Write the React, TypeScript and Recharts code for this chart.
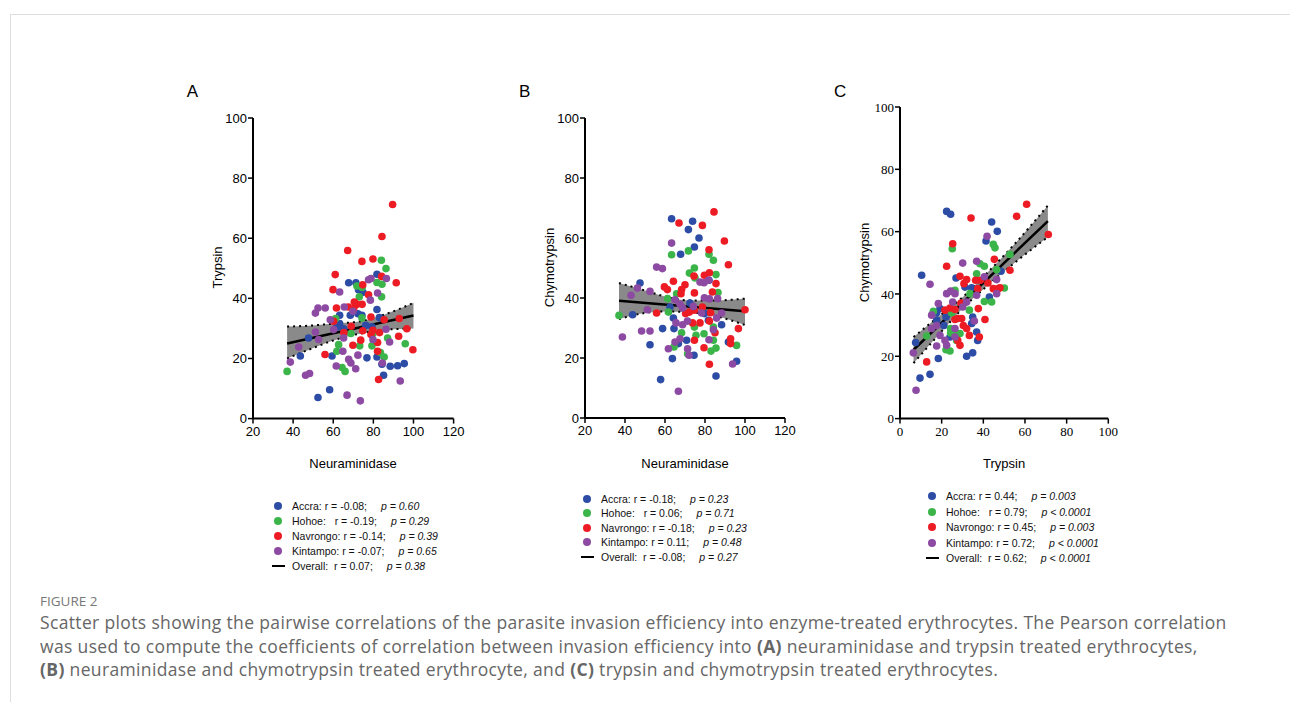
import React from "react";
import { ComposedChart, Scatter, Line, Area, XAxis, YAxis } from "recharts";

type Pt = [number, number];

const siteNames = ["Accra", "Hohoe", "Navrongo", "Kintampo"];
const siteColors = ["#2d4ca6", "#3bb54a", "#ed1c24", "#8d4aa2"];

// Panel A: neuraminidase (x) vs trypsin (y)
const accraA: Pt[] = [[81.8,48],[67.7,45.2],[71.3,45.2],[72.6,42.9],[74.8,42],[81.8,36.3],[68.5,34.4],[72.3,34.9],[74.3,34.4],[63.2,34.4],[63.2,31.6],[65.2,29.9],[61.8,30.5],[47.7,26.8],[79.3,30.5],[43.6,20.8],[59.4,20.8],[76.8,20.2],[81.8,20.5],[84.3,18.1],[88.4,17.4],[92.1,17.6],[95.4,18.3],[85.1,14.4],[58.2,9.6],[52.4,7],[76.2,31],[83,33.6]];
const hohoeA: Pt[] = [[84,52.7],[86.3,49.9],[81.8,45.3],[84.3,44.7],[71.8,44.1],[74.4,43.6],[84.1,40.5],[73,40.5],[74.3,33.5],[61.2,33.3],[68.8,28.3],[79.8,28.3],[62.7,24.6],[73.2,24.2],[79.3,24.2],[87.1,26.8],[95.9,24.9],[61.8,22.4],[85.4,20.5],[64.4,17],[65.9,15.7],[37,15.7],[83.5,22]];
const navrongoA: Pt[] = [[89.6,71.2],[84.3,60.6],[67.2,55.9],[74.3,52.3],[79.8,53.1],[61,47.9],[91.4,45.2],[84.1,47.3],[59.9,42.9],[74.7,44.5],[61.6,36.8],[70.5,38.8],[67.5,37.1],[71.9,38],[74.4,38],[70.2,36.6],[77.6,41.2],[78.8,33.8],[85.4,32.9],[92.9,33.3],[60.2,32.4],[69,30.7],[96.7,29.9],[74.7,29.2],[65.3,28.6],[79.8,29.4],[83.1,28.6],[78.8,28],[92.6,27.4],[73.7,26.1],[69.8,24.4],[82.1,25.3],[82.1,22.4],[99.7,22.9],[55.9,21.3],[82.6,13]];
const kintampoA: Pt[] = [[77.6,46.2],[78.8,46.6],[86.5,46.6],[82.1,41.8],[63.2,42.1],[52.4,36.8],[56,36.8],[65.5,37.1],[78.5,39.4],[69.8,35.7],[58.5,32.9],[51.1,35.1],[60.2,29.6],[51.1,28.8],[52.7,26.3],[42.8,23.8],[86.3,29.7],[79.8,26.3],[88.1,25.5],[65.2,26.8],[67.7,19.7],[68.8,18.5],[64.8,22.4],[61.5,17.5],[72.3,21.1],[71.2,16.6],[38.6,18.8],[46.2,14.4],[48.2,15],[66.9,7.8],[73.5,5.9],[93.4,12.5],[84.5,18.5]];
const bandXA = [37, 50, 60, 72, 85, 100];
const bandLoA = [20, 23.5, 26, 28.1, 29.5, 30];
const bandHiA = [30.6, 31, 31.6, 32.2, 34.5, 38.5];
const fitA: Pt[] = [[37, 25], [100, 34.3]];

// Panel B: neuraminidase (x) vs chymotrypsin (y)
const accraB: Pt[] = [[63.3,66.4],[73.8,65.6],[71.7,62.8],[77,60],[74.7,57],[67.8,54.6],[47.5,45],[82,45.9],[43.8,34.4],[62.5,37],[64.2,33.3],[72.5,38.3],[64.5,29.8],[58.8,29.8],[66.7,24.8],[52.5,24.4],[63.7,19.8],[74.5,20.9],[88.3,31.1],[81.7,32.6],[95.8,18.9],[85.5,14],[57.8,12.8],[79.7,34.8],[91.7,25.3],[70.8,25.9]];
const hohoeB: Pt[] = [[63.3,54.4],[71.7,55.7],[74.7,50],[72.2,48.3],[82,54.6],[84.2,52.6],[85.5,47.8],[75,46.7],[61.3,39.8],[65.8,41.4],[86.5,41.8],[37,34.2],[61.7,35.3],[74.7,30.3],[75.5,27.6],[79.5,28.1],[68.3,28.4],[84.2,25.9],[83,22.3],[85.5,23.3],[95.8,24.2],[64.5,23.7],[71.3,21.4],[84.2,30.3]];
const navrongoB: Pt[] = [[84.5,68.7],[67,65],[78.7,64.2],[89.7,59],[82,56.1],[91.7,51.1],[82.2,48.4],[79.7,47.6],[74.5,47.3],[64.2,45.6],[85.5,44.8],[59.7,43.7],[70,44.4],[61.2,42.8],[68.3,42.8],[74.7,41.7],[83.7,42],[68,41.4],[55.8,35],[70.3,34.8],[72.2,35.3],[74.7,35.9],[78.7,37],[82.8,35.1],[100,36.1],[73.8,31.7],[77.5,31.7],[82.2,32.3],[96.7,29.8],[85,28.4],[74.7,25.9],[79.5,23.4],[92.8,26.4],[92.8,24.8],[82.2,17.9]];
const kintampoB: Pt[] = [[63.3,58.3],[55.8,50.3],[58.7,49.8],[77.5,45.3],[79.5,45.1],[81.7,45.9],[79.7,40.1],[82.2,39.7],[86.3,39.8],[46.2,43.3],[43,40.9],[52.5,42.2],[51.2,36.1],[65,39.4],[67.5,37.9],[68.8,36.7],[74.2,37.2],[78.3,35],[88.3,35],[85.8,33.3],[65.5,31.7],[68.8,31.1],[71.2,32.3],[84.2,29.4],[48.3,29],[52.5,29],[38.7,27],[61.7,23.1],[65,25.3],[67.5,26.4],[71.3,23.1],[72,20.9],[82,26.1],[93.8,18],[66.7,8.9]];
const bandXB = [37, 50, 60, 72, 85, 100];
const bandLoB = [33, 35, 35.5, 35.3, 34, 31];
const bandHiB = [45, 42.5, 40.5, 39.2, 39.2, 39.8];
const fitB: Pt[] = [[37, 39.1], [100, 35.6]];

// Panel C: trypsin (x) vs chymotrypsin (y)
const accraC: Pt[] = [[22.4,66.5],[24.3,65.6],[44,63.1],[46.7,60.1],[10.4,46],[26.9,45.1],[48.5,47.3],[41.3,57],[31.2,42.2],[34.4,42],[19.2,35.3],[17.6,31.6],[21.1,29.9],[24,26.2],[34.9,32.6],[34.4,30.5],[36.8,27.8],[42.9,39],[32,20],[34.9,21.1],[37.3,25.1],[7.5,24.4],[18.4,19.3],[14.4,14.2],[9.6,13],[17.6,34],[22.1,32.6]];
const hohoeC: Pt[] = [[25.1,54.5],[44.8,55.9],[45.6,54.8],[52.8,52.7],[38.4,49.7],[40.5,48.9],[36.8,46.5],[46.4,47.8],[50.1,41.9],[26.4,41.2],[33.6,40.1],[40.5,37.6],[44,37.4],[16,34.4],[33.3,34.8],[12.8,26.5],[24.3,28.9],[24.3,27.5],[26.9,26.7],[27.2,25.1],[22.1,22.1],[24,21.7],[24.8,33.9],[28.8,27.3]];
const navrongoC: Pt[] = [[60.8,68.8],[56,64.9],[34.1,64.4],[71.2,59.1],[25.3,56.1],[45.3,51.1],[52.8,47.6],[22.4,48.9],[28.8,45.7],[32,44.6],[30.7,43.3],[36.3,44.4],[38.6,44.4],[42.2,43.5],[44.8,41.7],[47.2,41.7],[48,42],[37.3,41.7],[21.6,34.8],[24,35.5],[26.4,35],[27.7,32.1],[29.6,32.1],[30.4,29.9],[32,28.9],[33.3,26.7],[26.4,31.8],[37.6,35.3],[40.8,31.8],[38.1,26.2],[27.7,25.1],[28.8,23.5],[12.8,18.2],[29.3,37.1]];
const kintampoC: Pt[] = [[41.8,58.5],[36.8,50.5],[30.1,49.9],[14.4,43.1],[22.4,40.1],[24.3,40.9],[26.4,40.1],[46.4,44.6],[40.5,45.5],[46.4,40.1],[36.8,39.6],[18.4,36.9],[25.3,37.4],[30.1,35.8],[32,37.4],[15.2,33.2],[17.6,29.9],[19.2,26.7],[21.6,25.1],[17.6,23.3],[22.4,23.5],[15.2,28.9],[26.4,28.9],[26.4,26.2],[35.7,31.3],[6.4,21.1],[7.7,9.1]];
const bandXC = [6.5, 20, 30, 40, 55, 71];
const bandLoC = [17.8, 28, 35.3, 41.5, 50, 58.3];
const bandHiC = [26.2, 33.5, 38.9, 45.5, 56, 68.4];
const fitC: Pt[] = [[6.5, 22.1], [71, 63.4]];

const xTicksAB = [20, 40, 60, 80, 100, 120];
const xTicksC = [0, 20, 40, 60, 80, 100];
const yTicks = [0, 20, 40, 60, 80, 100];

const rA = ["r = -0.08;", "r = -0.19;", "r = -0.14;", "r = -0.07;", "r = 0.07;"];
const pA = ["p = 0.60", "p = 0.29", "p = 0.39", "p = 0.65", "p = 0.38"];
const rB = ["r = -0.18;", "r = 0.06;", "r = -0.18;", "r = 0.11;", "r = -0.08;"];
const pB = ["p = 0.23", "p = 0.71", "p = 0.23", "p = 0.48", "p = 0.27"];
const rC = ["r = 0.44;", "r = 0.79;", "r = 0.45;", "r = 0.72;", "r = 0.62;"];
const pC = ["p = 0.003", "p < 0.0001", "p = 0.003", "p < 0.0001", "p < 0.0001"];

const sans = "'Liberation Sans', Arial, sans-serif";
const serif = "'Liberation Serif', 'Times New Roman', serif";

const toPts = (pts: Pt[]) => pts.map(([x, y]) => ({ x, y }));
const toBand = (xs: number[], lo: number[], hi: number[]) => xs.map((x, i) => ({ x, lo: lo[i], hi: hi[i] }));

const dotShape = (color: string) => (props: any) => (
  <circle cx={props.cx} cy={props.cy} r={3.8} fill={color} />
);

interface PanelProps {
  letter: string;
  x0: number; x1: number; y0: number; y1: number;
  xDomain: [number, number];
  xTicks: number[];
  font: string;
  xTitle: string;
  yTitle: string;
  series: Pt[][];
  band: { x: number; lo: number; hi: number }[];
  fit: Pt[];
}

function Panel(p: PanelProps) {
  const padL = 60, padT = 15;
  const w = p.x1 - p.x0 + 75;
  const h = p.y1 - p.y0 + 50;
  const tickStyle = { fill: "#000", fontSize: 13, fontFamily: p.font };
  return (
    <>
      <div style={{ position: "absolute", left: p.x0 - padL, top: p.y0 - padT }}>
        <ComposedChart width={w} height={h} margin={{ top: padT, right: 15, bottom: 5, left: 20 }}>
          <XAxis type="number" dataKey="x" domain={p.xDomain} ticks={p.xTicks} interval={0} allowDataOverflow
            height={30} tickSize={5} tickMargin={3} stroke="#000" axisLine={{ stroke: "#000", strokeWidth: 2 }}
            tickLine={{ stroke: "#000", strokeWidth: 1.5 }} tick={tickStyle} />
          <YAxis type="number" dataKey="y" domain={[0, 100]} ticks={yTicks} interval={0} allowDataOverflow
            width={40} tickSize={5} tickMargin={1} stroke="#000" axisLine={{ stroke: "#000", strokeWidth: 2 }}
            tickLine={{ stroke: "#000", strokeWidth: 1.5 }} tick={tickStyle} />
          <Area data={p.band} dataKey={(d: any) => [d.lo, d.hi]} type="monotone" fill="#8a8a8a" fillOpacity={1}
            stroke="none" isAnimationActive={false} activeDot={false} />
          <Line data={p.band} dataKey="lo" type="monotone" stroke="#000" strokeWidth={2} strokeDasharray="2 4"
            dot={false} activeDot={false} isAnimationActive={false} />
          <Line data={p.band} dataKey="hi" type="monotone" stroke="#000" strokeWidth={2} strokeDasharray="2 4"
            dot={false} activeDot={false} isAnimationActive={false} />
          {p.series.map((s, i) => (
            <Scatter key={siteNames[i]} name={siteNames[i]} data={toPts(s)} dataKey="y" fill={siteColors[i]}
              shape={dotShape(siteColors[i])} isAnimationActive={false} />
          ))}
          <Line data={toPts(p.fit)} dataKey="y" type="linear" stroke="#000" strokeWidth={2.5}
            dot={false} activeDot={false} isAnimationActive={false} />
        </ComposedChart>
      </div>
      <div style={{ position: "absolute", left: p.x0 - 66, top: 82, fontFamily: sans, fontSize: 17 }}>{p.letter}</div>
      <div style={{ position: "absolute", left: p.x0, width: p.x1 - p.x0, top: p.y1 + 38, textAlign: "center",
        fontFamily: sans, fontSize: 13 }}>{p.xTitle}</div>
      <div style={{ position: "absolute", left: p.x0 - 36 - 100, width: 200, top: (p.y0 + p.y1) / 2 - 8,
        textAlign: "center", fontFamily: sans, fontSize: 13, transform: "rotate(-90deg)" }}>{p.yTitle}</div>
    </>
  );
}

function LegendBlock({ left, top, gap, labels, rs, ps }: { left: number; top: number; gap: number; labels: string[]; rs: string[]; ps: string[] }) {
  return (
    <div style={{ position: "absolute", left, top, fontFamily: sans, fontSize: 10.5, color: "#111" }}>
      {rs.map((r, i) => (
        <div key={i} style={{ position: "absolute", top: i * gap, left: 0, height: 14, display: "flex",
          alignItems: "center", whiteSpace: "pre" }}>
          <span style={{ width: 14, display: "inline-flex", justifyContent: "center" }}>
            {i < 4 ? (
              <span style={{ width: 8, height: 8, borderRadius: 4, background: siteColors[i], display: "inline-block" }} />
            ) : (
              <span style={{ width: 13, height: 2, background: "#000", display: "inline-block" }} />
            )}
          </span>
          <span style={{ marginLeft: 7 }}>{labels[i]} {r}</span>
          <span style={{ marginLeft: 14, fontStyle: "italic" }}>{ps[i]}</span>
        </div>
      ))}
    </div>
  );
}

const legendLabels = ["Accra:", "Hohoe:  ", "Navrongo:", "Kintampo:", "Overall: "];

export default function App() {
  return (
    <div style={{ position: "absolute", left: 0, top: 0, width: 1290, height: 702, background: "#fff", overflow: "hidden" }}>
      <div style={{ position: "absolute", left: 10, top: 14, width: 1280, height: 700, borderTop: "1px solid #dedede", borderLeft: "1px solid #dedede" }} />
      <Panel letter="A" x0={252.7} x1={453.3} y0={117.7} y1={418.3} xDomain={[20, 120]} xTicks={xTicksAB} font={sans}
        xTitle="Neuraminidase" yTitle="Trypsin" series={[accraA, hohoeA, navrongoA, kintampoA]}
        band={toBand(bandXA, bandLoA, bandHiA)} fit={fitA} />
      <Panel letter="B" x0={585} x1={785} y0={117.7} y1={417.7} xDomain={[20, 120]} xTicks={xTicksAB} font={sans}
        xTitle="Neuraminidase" yTitle="Chymotrypsin" series={[accraB, hohoeB, navrongoB, kintampoB]}
        band={toBand(bandXB, bandLoB, bandHiB)} fit={fitB} />
      <Panel letter="C" x0={900} x1={1108.3} y0={106.7} y1={418.3} xDomain={[0, 100]} xTicks={xTicksC} font={serif}
        xTitle="Trypsin" yTitle="Chymotrypsin" series={[accraC, hohoeC, navrongoC, kintampoC]}
        band={toBand(bandXC, bandLoC, bandHiC)} fit={fitC} />
      <LegendBlock left={271} top={498.5} gap={15} labels={legendLabels} rs={rA} ps={pA} />
      <LegendBlock left={580} top={492} gap={14.4} labels={legendLabels} rs={rB} ps={pB} />
      <LegendBlock left={925} top={489} gap={15.6} labels={legendLabels} rs={rC} ps={pC} />
      <div style={{ position: "absolute", left: 40, top: 592, fontFamily: "'Open Sans', sans-serif", fontSize: 13.5,
        fontWeight: 500, color: "#777" }}>
        FIGURE 2
      </div>
      <div style={{ position: "absolute", left: 40, top: 611, fontFamily: "'Open Sans', sans-serif", fontSize: 17.5,
        letterSpacing: 0.35, lineHeight: "23.5px", color: "#666", whiteSpace: "nowrap" }}>
        Scatter plots showing the pairwise correlations of the parasite invasion efficiency into enzyme-treated erythrocytes. The Pearson correlation<br />
        was used to compute the coefficients of correlation between invasion efficiency into <b>(A)</b> neuraminidase and trypsin treated erythrocytes,<br />
        <b>(B)</b> neuraminidase and chymotrypsin treated erythrocyte, and <b>(C)</b> trypsin and chymotrypsin treated erythrocytes.
      </div>
    </div>
  );
}
